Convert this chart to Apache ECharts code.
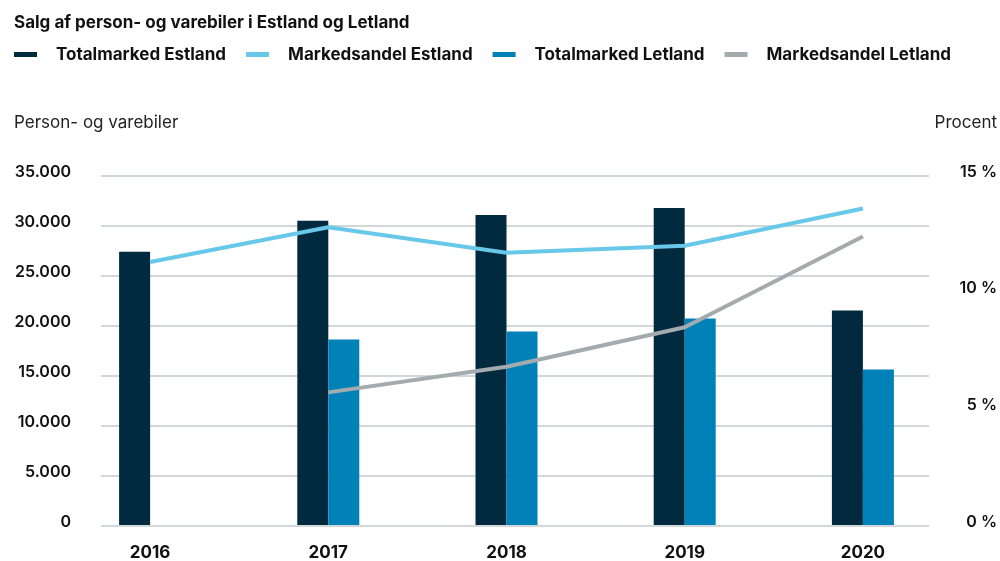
<!DOCTYPE html>
<html>
<head>
<meta charset="utf-8">
<title>Salg af person- og varebiler i Estland og Letland</title>
<script src="https://cdn.jsdelivr.net/npm/echarts@6/dist/echarts.min.js"></script>
<style>
  html, body { margin: 0; padding: 0; background: #fff; }
  #main { width: 1000px; height: 561px; }
</style>
</head>
<body>
<div id="main"></div>
<script>
// data
var years = ['2016', '2017', '2018', '2019', '2020'];
var totalEstland = [27400, 30500, 31100, 31800, 21500];
var totalLetland = ['-', 18600, 19400, 20700, 15600];
var andelEstland = [11.3, 12.8, 11.7, 12.0, 13.6];
var andelLetland = ['-', 5.7, 6.8, 8.5, 12.4];

var FONT = 'Inter, "Noto Sans", sans-serif';

function thousands(v) {
  return String(v).replace(/\B(?=(\d{3})+(?!\d))/g, '.');
}

var chart = echarts.init(document.getElementById('main'));

chart.setOption({
  animation: false,
  textStyle: { fontFamily: FONT },
  color: ['#012a3e', '#68c8ea', '#0082b9', '#a3abaf'],
  graphic: [
    {
      type: 'text', left: 14, top: 14,
      style: { text: 'Salg af person- og varebiler i Estland og Letland', font: 'bold 17px ' + FONT, fill: '#111' }
    },
    {
      type: 'text', left: 14, top: 114,
      style: { text: 'Person- og varebiler', font: '17px ' + FONT, fill: '#222' }
    },
    {
      type: 'text', right: 3, top: 114,
      style: { text: 'Procent', font: '17px ' + FONT, fill: '#222' }
    }
  ],
  legend: {
    left: 14,
    top: 46,
    padding: 0,
    icon: 'rect',
    itemWidth: 23,
    itemHeight: 5,
    itemGap: 20,
    textStyle: { fontSize: 17, fontWeight: 'bold', color: '#111', padding: [0, 0, 0, 14] },
    data: ['Totalmarked Estland', 'Markedsandel Estland', 'Totalmarked Letland', 'Markedsandel Letland']
  },
  grid: [
    { left: 101, right: 71, top: 176, bottom: 35 },
    { left: 61, right: 48, top: 176, bottom: 35 }
  ],
  xAxis: [
    { gridIndex: 0, type: 'category', data: years, show: false },
    {
      gridIndex: 1, type: 'category', data: years,
      axisLine: { show: false },
      axisTick: { show: false },
      axisLabel: { margin: 19, fontSize: 17, fontWeight: 'bold', color: '#111' }
    }
  ],
  yAxis: [
    {
      gridIndex: 0, type: 'value', min: 0, max: 35000, interval: 5000,
      axisLine: { show: false },
      axisTick: { show: false },
      axisLabel: {
        margin: 30, fontSize: 16, fontWeight: 600, color: '#111',
        verticalAlign: 'bottom', lineHeight: 8,
        formatter: thousands
      },
      splitLine: { lineStyle: { color: '#c3cbce', width: 1.5 } }
    },
    {
      gridIndex: 0, type: 'value', position: 'right', min: 0, max: 15, interval: 5,
      axisLine: { show: false },
      axisTick: { show: false },
      splitLine: { show: false },
      axisLabel: {
        margin: 68, align: 'right', fontSize: 16, fontWeight: 600, color: '#111',
        verticalAlign: 'bottom', lineHeight: 8,
        formatter: function (v) { return v + ' %'; }
      }
    },
    { gridIndex: 1, type: 'value', min: 0, max: 35000, show: false },
    { gridIndex: 1, type: 'value', min: 0, max: 15, show: false }
  ],
  series: [
    {
      name: 'Totalmarked Estland', type: 'bar',
      xAxisIndex: 1, yAxisIndex: 2,
      barWidth: 31, barGap: '0%',
      data: totalEstland
    },
    {
      name: 'Markedsandel Estland', type: 'line',
      xAxisIndex: 1, yAxisIndex: 3, z: 5,
      symbol: 'none',
      lineStyle: { width: 4 },
      data: andelEstland
    },
    {
      name: 'Totalmarked Letland', type: 'bar',
      xAxisIndex: 1, yAxisIndex: 2,
      barWidth: 31, barGap: '0%',
      data: totalLetland
    },
    {
      name: 'Markedsandel Letland', type: 'line',
      xAxisIndex: 1, yAxisIndex: 3, z: 5,
      symbol: 'none',
      lineStyle: { width: 4 },
      data: andelLetland
    }
  ]
});
</script>
</body>
</html>
